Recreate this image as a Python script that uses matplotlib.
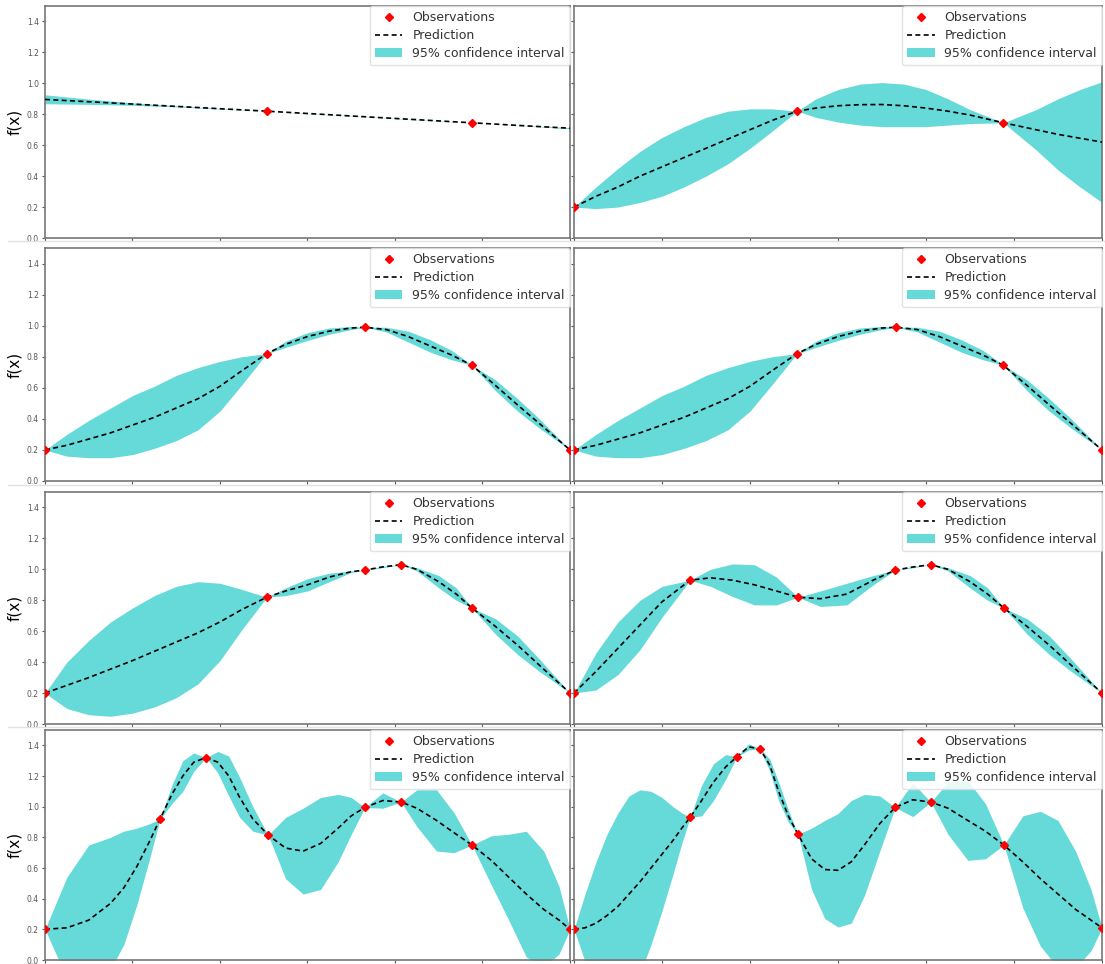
import matplotlib.pyplot as plt
from matplotlib.lines import Line2D

# observations and GP posterior, one block per panel
# panel 1
p1_ox = [3.07, 7.76]
p1_oy = [0.82, 0.745]
p1_x = [-2, -1, 0, 1, 2, 3.07, 4, 5, 6, 7, 7.76, 9, 10]
p1_mean = [0.896, 0.881, 0.866, 0.851, 0.836, 0.82, 0.805, 0.789, 0.773, 0.757, 0.745, 0.725, 0.71]
p1_lo = [0.868, 0.864, 0.858, 0.848, 0.834, 0.82, 0.804, 0.788, 0.772, 0.756, 0.745, 0.724, 0.706]
p1_hi = [0.926, 0.898, 0.874, 0.855, 0.838, 0.82, 0.806, 0.790, 0.774, 0.758, 0.745, 0.726, 0.714]

# panel 2
p2_ox = [-2, 3.07, 7.76]
p2_oy = [0.2, 0.82, 0.745]
p2_x = [-2, -1.5, -1, -0.5, 0, 0.5, 1, 1.5, 2, 2.5, 3.07, 3.5, 4, 4.5, 5, 5.5, 6, 6.5, 7, 7.76, 8.5, 9, 9.5, 10]
p2_mean = [0.2, 0.27, 0.33, 0.40, 0.46, 0.52, 0.58, 0.64, 0.70, 0.76, 0.82, 0.84, 0.855, 0.862, 0.863, 0.855, 0.84, 0.82, 0.795, 0.745, 0.70, 0.67, 0.645, 0.62]
p2_hi = [0.2, 0.33, 0.45, 0.56, 0.65, 0.72, 0.78, 0.82, 0.835, 0.835, 0.82, 0.9, 0.96, 0.995, 1.005, 0.995, 0.96, 0.90, 0.83, 0.745, 0.83, 0.90, 0.96, 1.01]
p2_lo = [0.2, 0.19, 0.2, 0.23, 0.27, 0.33, 0.40, 0.48, 0.58, 0.69, 0.82, 0.78, 0.75, 0.73, 0.72, 0.72, 0.72, 0.73, 0.74, 0.745, 0.57, 0.44, 0.33, 0.23]

# panel 3 (panel 4 shows the same fit)
p3_ox = [-2, 3.07, 5.31, 7.76, 10]
p3_oy = [0.2, 0.82, 0.99, 0.745, 0.2]
p3_x = [-2, -1.5, -1, -0.5, 0, 0.5, 1, 1.5, 2, 2.5, 3.07, 3.5, 4, 4.5, 5, 5.31, 5.8, 6.3, 6.8, 7.3, 7.76, 8.3, 8.8, 9.3, 10]
p3_mean = [0.2, 0.23, 0.27, 0.31, 0.36, 0.41, 0.47, 0.53, 0.61, 0.71, 0.82, 0.88, 0.93, 0.965, 0.985, 0.99, 0.975, 0.93, 0.87, 0.81, 0.745, 0.614, 0.49, 0.37, 0.2]
p3_hi = [0.2, 0.30, 0.39, 0.47, 0.55, 0.61, 0.68, 0.73, 0.77, 0.80, 0.82, 0.90, 0.955, 0.985, 0.995, 0.99, 0.99, 0.965, 0.91, 0.84, 0.745, 0.65, 0.53, 0.40, 0.2]
p3_lo = [0.2, 0.16, 0.15, 0.15, 0.17, 0.21, 0.26, 0.33, 0.45, 0.62, 0.82, 0.86, 0.905, 0.945, 0.975, 0.99, 0.96, 0.895, 0.83, 0.78, 0.745, 0.58, 0.45, 0.34, 0.2]

# panel 5
p5_ox = [-2, 3.07, 5.31, 6.14, 7.76, 10]
p5_oy = [0.2, 0.82, 0.995, 1.03, 0.75, 0.2]
p5_x = [-2, -1.5, -1, -0.5, 0, 0.5, 1, 1.5, 2, 2.5, 3.07, 3.5, 4, 4.5, 5, 5.31, 5.7, 6.14, 6.5, 7, 7.4, 7.76, 8.3, 8.8, 9.3, 10]
p5_mean = [0.2, 0.25, 0.3, 0.355, 0.41, 0.47, 0.53, 0.59, 0.66, 0.74, 0.82, 0.86, 0.9, 0.95, 0.985, 0.995, 1.015, 1.03, 1.0, 0.92, 0.84, 0.75, 0.63, 0.51, 0.38, 0.2]
p5_hi = [0.2, 0.40, 0.54, 0.66, 0.75, 0.83, 0.89, 0.92, 0.91, 0.87, 0.82, 0.88, 0.94, 0.975, 0.99, 0.995, 1.02, 1.03, 1.01, 0.96, 0.88, 0.75, 0.68, 0.57, 0.42, 0.2]
p5_lo = [0.2, 0.1, 0.06, 0.05, 0.07, 0.11, 0.17, 0.26, 0.41, 0.61, 0.82, 0.83, 0.86, 0.92, 0.98, 0.995, 1.01, 1.03, 0.99, 0.88, 0.80, 0.75, 0.58, 0.45, 0.34, 0.2]

# panel 6
p6_ox = [-2, 0.64, 3.09, 5.3, 6.11, 7.77, 10]
p6_oy = [0.2, 0.93, 0.82, 0.995, 1.03, 0.75, 0.2]
p6_x = [-2, -1.5, -1, -0.5, 0, 0.64, 1.1, 1.6, 2.1, 2.6, 3.09, 3.6, 4.2, 4.8, 5.3, 5.7, 6.11, 6.5, 7, 7.4, 7.77, 8.3, 8.8, 9.3, 10]
p6_mean = [0.2, 0.34, 0.49, 0.64, 0.79, 0.93, 0.945, 0.93, 0.9, 0.86, 0.82, 0.81, 0.84, 0.93, 0.995, 1.015, 1.03, 1.0, 0.92, 0.84, 0.75, 0.63, 0.51, 0.38, 0.2]
p6_hi = [0.2, 0.46, 0.66, 0.80, 0.89, 0.93, 1.0, 1.035, 1.03, 0.95, 0.82, 0.86, 0.91, 0.96, 0.995, 1.02, 1.03, 1.01, 0.96, 0.88, 0.75, 0.68, 0.57, 0.42, 0.2]
p6_lo = [0.2, 0.22, 0.32, 0.48, 0.69, 0.93, 0.89, 0.825, 0.77, 0.77, 0.82, 0.76, 0.77, 0.9, 0.995, 1.01, 1.03, 0.99, 0.88, 0.80, 0.75, 0.58, 0.45, 0.34, 0.2]

# panel 7
p7_ox = [-2, 0.63, 1.68, 3.1, 5.31, 6.14, 7.76, 10]
p7_oy = [0.2, 0.92, 1.32, 0.815, 0.995, 1.03, 0.75, 0.2]
p7_x = [-2, -1.5, -1, -0.5, -0.2, 0.1, 0.4, 0.63, 0.9, 1.15, 1.4, 1.68, 1.95, 2.2, 2.45, 2.75, 3.1,
        3.5, 3.9, 4.3, 4.7, 5.0, 5.31, 5.72, 6.14, 6.5, 6.95, 7.35, 7.76, 8.2, 8.6, 9.0, 9.4, 9.75, 10]
p7_mean = [0.2, 0.21, 0.26, 0.37, 0.47, 0.61, 0.78, 0.92, 1.08, 1.2, 1.29, 1.32, 1.29, 1.2, 1.06, 0.92, 0.815,
           0.73, 0.71, 0.76, 0.86, 0.94, 0.995, 1.04, 1.03, 0.99, 0.91, 0.83, 0.75, 0.65, 0.54, 0.43, 0.33, 0.26, 0.2]
p7_hi = [0.2, 0.54, 0.75, 0.80, 0.84, 0.86, 0.89, 0.92, 1.14, 1.30, 1.35, 1.32, 1.36, 1.33, 1.19, 1.0, 0.815,
         0.93, 0.99, 1.06, 1.08, 1.06, 0.995, 1.09, 1.03, 1.11, 1.11, 0.96, 0.75, 0.81, 0.82, 0.84, 0.71, 0.48, 0.2]
p7_lo = [0.2, -0.12, -0.23, -0.06, 0.10, 0.36, 0.67, 0.92, 1.02, 1.10, 1.23, 1.32, 1.22, 1.07, 0.93, 0.84, 0.815,
         0.53, 0.43, 0.46, 0.64, 0.82, 0.995, 0.99, 1.03, 0.87, 0.71, 0.70, 0.75, 0.49, 0.26, 0.02, -0.05, 0.04, 0.2]

# panel 8
p8_ox = [-2, 0.64, 1.70, 2.23, 3.09, 5.3, 6.11, 7.77, 10]
p8_oy = [0.2, 0.93, 1.325, 1.377, 0.82, 0.995, 1.03, 0.75, 0.21]
p8_x = [-2, -1.75, -1.5, -1.25, -1, -0.75, -0.5, -0.25, 0, 0.25, 0.45, 0.64, 0.9, 1.17, 1.45, 1.70, 1.97, 2.23,
        2.45, 2.65, 2.87, 3.09, 3.4, 3.7, 4.0, 4.3, 4.6, 4.95, 5.3, 5.7, 6.11, 6.5, 6.95, 7.35, 7.77,
        8.2, 8.6, 9.0, 9.4, 9.75, 10]
p8_mean = [0.2, 0.21, 0.24, 0.29, 0.35, 0.43, 0.51, 0.60, 0.69, 0.78, 0.86, 0.93, 1.04, 1.16, 1.26, 1.325, 1.39, 1.377,
           1.27, 1.1, 0.94, 0.82, 0.66, 0.59, 0.585, 0.64, 0.75, 0.89, 0.995, 1.045, 1.03, 0.99, 0.91, 0.84, 0.75,
           0.64, 0.53, 0.43, 0.33, 0.26, 0.21]
p8_hi = [0.2, 0.43, 0.64, 0.82, 0.96, 1.07, 1.11, 1.10, 1.06, 1.0, 0.96, 0.93, 1.14, 1.28, 1.34, 1.325, 1.41, 1.377,
         1.31, 1.16, 0.98, 0.82, 0.86, 0.91, 0.955, 1.04, 1.08, 1.07, 0.995, 1.155, 1.03, 1.16, 1.17, 1.02, 0.75,
         0.94, 0.97, 0.91, 0.71, 0.46, 0.21]
p8_lo = [0.2, -0.01, -0.16, -0.24, -0.26, -0.21, -0.09, 0.10, 0.32, 0.56, 0.76, 0.93, 0.94, 1.04, 1.18, 1.325, 1.37, 1.377,
         1.23, 1.04, 0.90, 0.82, 0.46, 0.27, 0.215, 0.24, 0.42, 0.71, 0.995, 0.935, 1.03, 0.82, 0.65, 0.66, 0.75,
         0.34, 0.09, -0.05, -0.05, 0.06, 0.21]

panels = [
    (p1_x, p1_mean, p1_lo, p1_hi, p1_ox, p1_oy),
    (p2_x, p2_mean, p2_lo, p2_hi, p2_ox, p2_oy),
    (p3_x, p3_mean, p3_lo, p3_hi, p3_ox, p3_oy),
    (p3_x, p3_mean, p3_lo, p3_hi, p3_ox, p3_oy),
    (p5_x, p5_mean, p5_lo, p5_hi, p5_ox, p5_oy),
    (p6_x, p6_mean, p6_lo, p6_hi, p6_ox, p6_oy),
    (p7_x, p7_mean, p7_lo, p7_hi, p7_ox, p7_oy),
    (p8_x, p8_mean, p8_lo, p8_hi, p8_ox, p8_oy),
]

W, H = 1105, 964
fig = plt.figure(figsize=(W / 100, H / 100), dpi=100)

# faint borders of the stitched screenshots
for yy in [241, 485, 727]:
    fig.add_artist(Line2D([8 / W, 1], [1 - yy / H, 1 - yy / H], color='#e2e2e2', lw=1))

# axes boxes in pixels (left, right) per column and (top, bottom) per row
cols = [(45, 570), (574, 1102)]
rows = [(6, 238), (248, 481), (492, 724), (730, 960)]

for i, (x, mean, lo, hi, ox, oy) in enumerate(panels):
    r, c = divmod(i, 2)
    x0, x1 = cols[c]
    y0, y1 = rows[r]
    ax = fig.add_axes([x0 / W, 1 - y1 / H, (x1 - x0) / W, (y1 - y0) / H])
    ax.plot(ox, oy, 'D', color='red', markersize=4.5, label='Observations', zorder=4)
    ax.plot(x, mean, color='k', lw=1.2, linestyle=(0, (3, 2)), label='Prediction', zorder=3)
    ax.fill_between(x, lo, hi, color='#66d9d9', lw=0, label='95% confidence interval')
    ax.set_xlim(-2, 10)
    ax.set_ylim(0, 1.5)
    ax.set_xticks([-2, 0, 2, 4, 6, 8, 10])
    ax.set_xticklabels([])
    ax.set_yticks([0, 0.2, 0.4, 0.6, 0.8, 1.0, 1.2, 1.4])
    ax.tick_params(length=2.5, width=0.8, colors='#555555', labelsize=5.5, pad=2)
    for s in ax.spines.values():
        s.set_color('#777777')
        s.set_linewidth(1.2)
    if c == 0:
        ax.set_ylabel('f(x)', fontsize=11, labelpad=3)
    else:
        ax.set_yticklabels([])
    leg = ax.legend(loc='upper right', fontsize=9, borderaxespad=0.0,
                    handlelength=2.2, labelspacing=0.4, framealpha=0.85)
    leg.get_frame().set_edgecolor('#dddddd')
    leg.set_zorder(5)
    for t in leg.get_texts():
        t.set_color('#333333')

fig.savefig('out.png', dpi=100)
